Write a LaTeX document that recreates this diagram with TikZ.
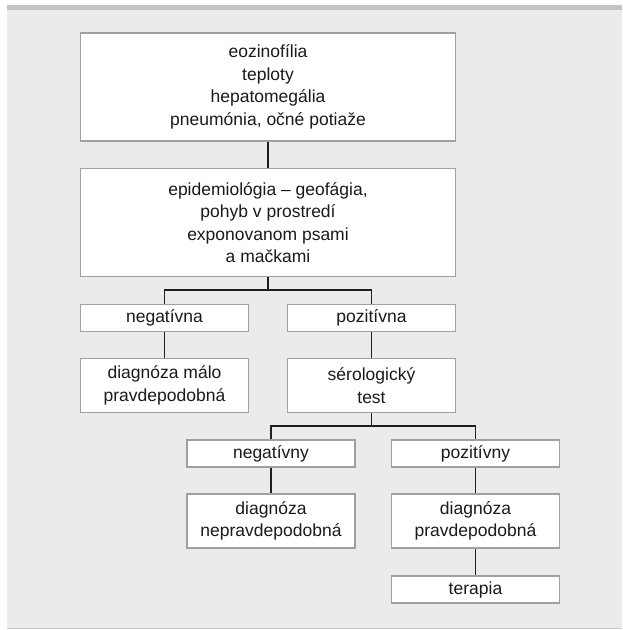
\documentclass[tikz,border=0pt]{standalone}
\usepackage{fontspec}
\setmainfont{Liberation Sans}
\definecolor{bggray}{HTML}{EBEBEB}
\definecolor{bargray}{HTML}{C3C3C3}
\definecolor{linegray}{HTML}{C8C8C8}
\definecolor{boxgray}{HTML}{A0A0A0}
\definecolor{conn}{HTML}{1E1E1E}
\definecolor{txt}{HTML}{1A1A1A}
\begin{document}
\begin{tikzpicture}[x=1pt,y=-1pt,
  box/.style={draw=boxgray,fill=white,line width=1.3pt,align=center,inner sep=0pt,
    text=txt,font=\fontsize{17.5}{22.5}\selectfont},
  bigbox/.style={box,minimum width=375pt,minimum height=108pt},
  smallbox/.style={box,minimum width=168pt,minimum height=27pt},
  midbox/.style={box,minimum width=168pt,minimum height=54pt},
  link/.style={draw=conn,line width=1.1pt}]
\useasboundingbox (0,0) rectangle (622,630);
\fill[bggray] (7,5) rectangle (622,628);
\fill[bargray] (7,5) rectangle (622,10);
\draw[linegray,line width=1pt] (7,628) -- (622,628);

\node[bigbox] (top) at (268,87) {eozinofília\\teploty\\hepatomegália\\pneumónia, očné potiaže};
\node[bigbox] (epi) at (268,222.5) {epidemiológia – geofágia,\\pohyb v prostredí\\exponovanom psami\\a mačkami};
\node[smallbox] (neg1) at (164.5,318) {negatívna};
\node[smallbox] (poz1) at (371.5,318) {pozitívna};
\node[midbox] (dm) at (164.5,385.5) {diagnóza málo\\pravdepodobná};
\node[midbox] (sero) at (371.5,385.5) {sérologický\\test};
\node[smallbox] (neg2) at (271,453.5) {negatívny};
\node[smallbox] (poz2) at (475.5,453.5) {pozitívny};
\node[midbox] (dn) at (271,521) {diagnóza\\nepravdepodobná};
\node[midbox] (dp) at (475.5,521) {diagnóza\\pravdepodobná};
\node[smallbox] (ter) at (475.5,589.5) {terapia};

\coordinate (b1) at (268,290);
\coordinate (b2) at (371.5,426);

\draw[link] (top.south) -- (epi.north);
\draw[link] (epi.south) -- (b1);
\draw[link] (neg1.north) |- (b1) -| (poz1.north);
\draw[link] (neg1.south) -- (dm.north);
\draw[link] (poz1.south) -- (sero.north);
\draw[link] (sero.south) -- (b2);
\draw[link] (neg2.north) |- (b2) -| (poz2.north);
\draw[link] (neg2.south) -- (dn.north);
\draw[link] (poz2.south) -- (dp.north);
\draw[link] (dp.south) -- (ter.north);
\end{tikzpicture}
\end{document}
